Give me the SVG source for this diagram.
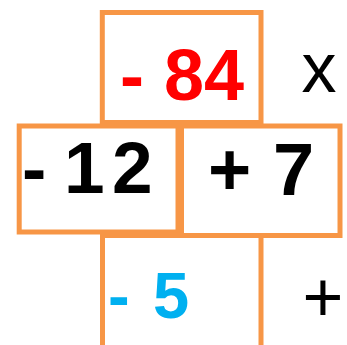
<svg xmlns="http://www.w3.org/2000/svg" width="347" height="345" viewBox="0 0 347 345">
  <style>
    .box { fill: #FFFFFF; stroke: #F79646; stroke-width: 5; }
    .num { font-family: "Liberation Sans", Arial, sans-serif; font-weight: bold; }
    .op { font-family: "Liberation Sans", Arial, sans-serif; font-size: 70px; fill: #000000; }
  </style>
  <rect width="347" height="345" fill="#FFFFFF"/>
  <g id="top">
    <rect class="box" x="102.3" y="12.5" width="158.7" height="110"/>
    <text class="num" x="120" y="100" font-size="72" fill="#FF0000">- 84</text>
  </g>
  <g id="left">
    <rect class="box" x="19.2" y="126" width="158.8" height="106"/>
    <text class="num" font-size="73" fill="#000000" y="193"><tspan x="22">-</tspan><tspan x="64">1</tspan><tspan x="112">2</tspan></text>
  </g>
  <g id="right">
    <rect class="box" x="181.5" y="126" width="158.5" height="109.5"/>
    <text class="num" font-size="74" fill="#000000" y="195"><tspan x="208">+</tspan><tspan x="273">7</tspan></text>
  </g>
  <g id="bottom">
    <rect class="box" x="102.5" y="235.5" width="158.5" height="130"/>
    <text class="num" font-size="65" fill="#00B0F0" y="318"><tspan x="108">-</tspan><tspan x="153">5</tspan></text>
  </g>
  <g id="labels">
    <text class="op" x="319" y="92" text-anchor="middle">x</text>
    <text class="op" x="323" y="321" text-anchor="middle">+</text>
  </g>
</svg>
